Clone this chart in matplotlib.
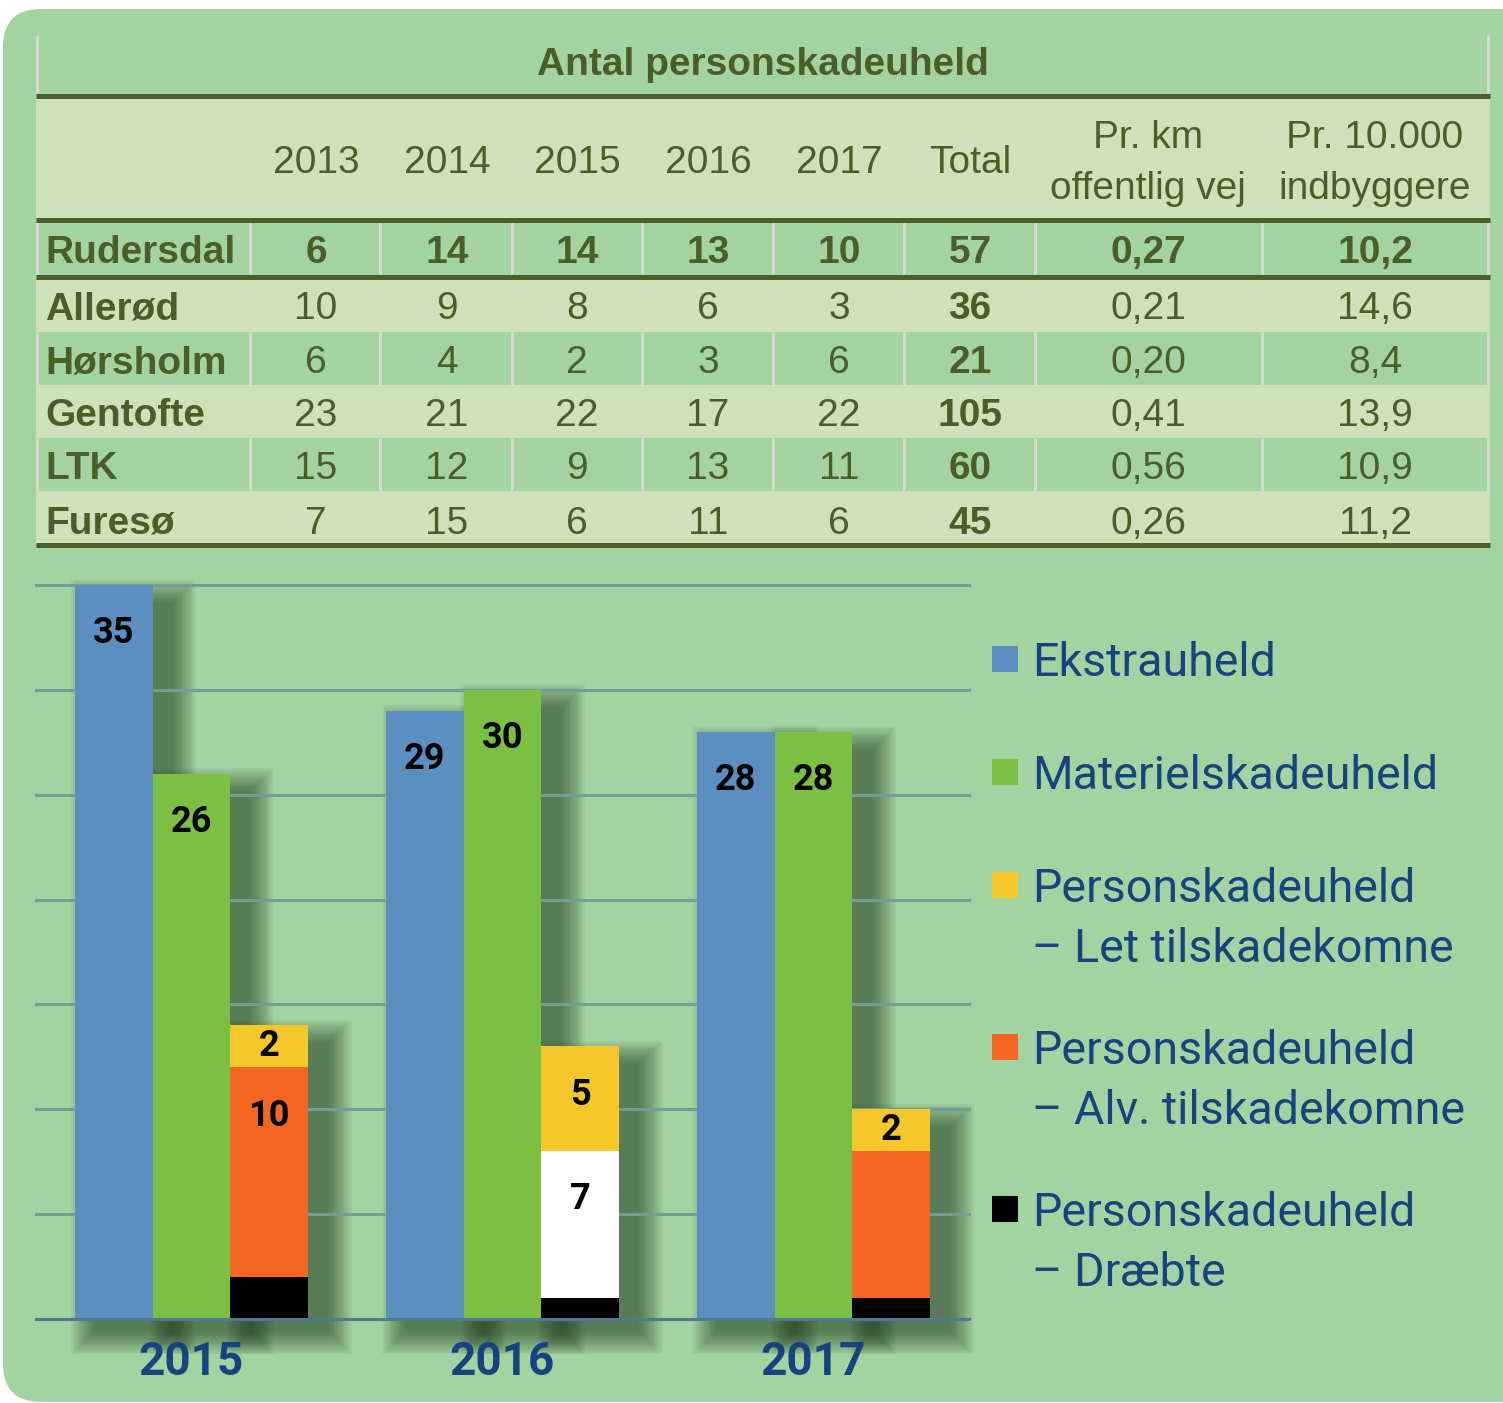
import numpy as np
import matplotlib.pyplot as plt
from matplotlib.patches import FancyBboxPatch, Rectangle

# ---- data: table ----
title = "Antal personskadeuheld"
col_heads = ["2013", "2014", "2015", "2016", "2017", "Total",
             "Pr. km\noffentlig vej", "Pr. 10.000\nindbyggere"]
names = ["Rudersdal", "Allerød", "Hørsholm", "Gentofte", "LTK", "Furesø"]
y2013 = [6, 10, 6, 23, 15, 7]
y2014 = [14, 9, 4, 21, 12, 15]
y2015 = [14, 8, 2, 22, 9, 6]
y2016 = [13, 6, 3, 17, 13, 11]
y2017 = [10, 3, 6, 22, 11, 6]
total = [57, 36, 21, 105, 60, 45]
per_km = ["0,27", "0,21", "0,20", "0,41", "0,56", "0,26"]
per_10k = ["10,2", "14,6", "8,4", "13,9", "10,9", "11,2"]

# ---- data: chart ----
years = ["2015", "2016", "2017"]
ekstra = np.array([35, 29, 28])
materiel = np.array([26, 30, 28])
draebte = np.array([2, 1, 1])
alv = np.array([10, 7, 7])
let = np.array([2, 5, 2])
alv_text = ["10", "7", ""]
legend_names = ["Ekstrauheld", "Materielskadeuheld",
                "Personskadeuheld\n– Let tilskadekomne",
                "Personskadeuheld\n– Alv. tilskadekomne",
                "Personskadeuheld\n– Dræbte"]

# colours
bg_green = "#a3d3a1"
light_row = "#cfe1b9"
dark = "#4b5e2a"
sep_c = "#d5dad5"
blue = "#5b8fbf"
green = "#7bc043"
yellow = "#f5c72a"
orange = "#f46622"
alv_colors = [orange, "white", orange]
navy = "#17447f"
grid_c = "#729e98"

W, H = 1503, 1403
fig = plt.figure(figsize=(W / 100, H / 100), dpi=100)
fig.patch.set_facecolor("white")

bg = fig.add_axes([0, 0, 1, 1])
bg.set_xlim(0, W)
bg.set_ylim(H, 0)
bg.axis("off")
bg.add_patch(FancyBboxPatch((3, 9), W + 80, H - 10,
                            boxstyle="round,pad=0,rounding_size=38",
                            fc=bg_green, ec="none"))

# ---- table ----
tx0, tx1 = 36, 1490
bg.add_patch(Rectangle((tx0, 97), tx1 - tx0, 121, fc=light_row, ec="none"))
bands = [(222, 275, bg_green), (280, 332, light_row), (332, 385, bg_green),
         (385, 438, light_row), (438, 491, bg_green), (491, 544, light_row)]
seps = [37, 250, 380, 512, 642, 773, 904, 1035, 1262, 1488]
for y0, y1, c in bands:
    bg.add_patch(Rectangle((tx0, y0), tx1 - tx0, y1 - y0, fc=c, ec="none"))
    if c == bg_green:
        for sx in seps:
            bg.plot([sx, sx], [y0, y1], color=sep_c, lw=2.2, solid_capstyle="butt")
for sx in (37, 1488):
    bg.plot([sx, sx], [35, 93], color=sep_c, lw=2.2, solid_capstyle="butt")
for yl in (96, 220, 277, 545):
    bg.plot([tx0, tx1], [yl, yl], color=dark, lw=3.6, solid_capstyle="butt")

tfont = dict(family=["Liberation Sans", "DejaVu Sans"], fontsize=28, color=dark)
bg.text(763, 75, title, ha="center", va="baseline", fontweight="bold", **tfont)

col_x = [316, 447, 577, 708, 839, 970, 1148, 1375]
for cx, head in zip(col_x, col_heads):
    parts = head.split("\n")
    if len(parts) == 1:
        bg.text(cx, 173, parts[0], ha="center", va="baseline", **tfont)
    else:
        bg.text(cx, 148, parts[0], ha="center", va="baseline", **tfont)
        bg.text(cx, 199, parts[1], ha="center", va="baseline", **tfont)

row_base = [263, 319, 373, 426, 479, 534]
for i, name in enumerate(names):
    yb = row_base[i]
    vals = [y2013[i], y2014[i], y2015[i], y2016[i], y2017[i], total[i], per_km[i], per_10k[i]]
    bg.text(45, yb, name, ha="left", va="baseline", fontweight="bold", **tfont)
    for j, (cx, v) in enumerate(zip(col_x, vals)):
        wgt = "bold" if (i == 0 or j == 5) else "normal"
        bg.text(cx, yb, str(v), ha="center", va="baseline", fontweight=wgt, **tfont)

# ---- chart ----
ax_l, ax_r, ax_t, ax_b = 36, 969, 585, 1319
ax = fig.add_axes([ax_l / W, 1 - ax_b / H, (ax_r - ax_l) / W, (ax_b - ax_t) / H])
ax.patch.set_alpha(0)
ax.set_xlim(-0.5, 2.5)
ax.set_ylim(0, 35)
for s in ax.spines.values():
    s.set_visible(False)
ax.set_yticks(range(0, 36, 5))
ax.yaxis.grid(True, color=grid_c, lw=2.2, zorder=0)
for gl in ax.get_ygridlines():
    gl.set_clip_on(False)
ax.tick_params(axis="y", length=0, labelleft=False)
x = np.arange(len(years))
ax.set_xticks(x)
ax.set_xticklabels(years, fontsize=33, fontweight="bold", color=navy,
                   family=["Roboto", "DejaVu Sans"])
ax.tick_params(axis="x", length=0, pad=15)

w = 0.25
pxx = (ax_r - ax_l) / 3.0
pxy = (ax_b - ax_t) / 35.0


def shadow(xc, h):
    # soft drop shadow: stacked translucent rectangles, shifted right/down
    ox, oy = 20, 12
    for k in range(14):
        pad = k * 1.8
        ax.add_patch(Rectangle((xc - w / 2 + (ox - pad) / pxx, -(oy + pad) / pxy),
                               w + 2 * pad / pxx, h + (2 * pad - 6) / pxy,
                               fc="#1c361c", ec="none", alpha=0.05,
                               zorder=1.5, clip_on=False))


stack_tot = draebte + alv + let
for i in range(len(years)):
    shadow(x[i] - w, ekstra[i])
    shadow(x[i], materiel[i])
    shadow(x[i] + w, stack_tot[i])

ax.bar(x - w, ekstra, w, color=blue, zorder=3)
ax.bar(x, materiel, w, color=green, zorder=3)
ax.bar(x + w, draebte, w, color="black", zorder=3)
ax.bar(x + w, alv, w, bottom=draebte, color=alv_colors, zorder=3)
ax.bar(x + w, let, w, bottom=draebte + alv, color=yellow, zorder=3)
ax.axhline(0, color="#4f7a92", lw=2.2, zorder=4, clip_on=False)

lab = dict(fontsize=26, fontweight="bold", color="black",
           family=["Roboto", "DejaVu Sans"], ha="center", va="center", zorder=5)


def put(xc, bottom, h, txt):
    if txt:
        top = bottom + h
        ax.text(xc, top - min(2.3, h / 2), txt, **lab)


for i in range(len(years)):
    put(x[i] - w, 0, ekstra[i], str(ekstra[i]))
    put(x[i], 0, materiel[i], str(materiel[i]))
    put(x[i] + w, draebte[i], alv[i], alv_text[i])
    put(x[i] + w, draebte[i] + alv[i], let[i], str(let[i]))

# ---- legend ----
leg_colors = [blue, green, yellow, orange, "black"]
leg_y = [659, 772, 885, 1047, 1209]
for c, name, yc in zip(leg_colors, legend_names, leg_y):
    bg.add_patch(Rectangle((992, yc - 13), 26, 26, fc=c, ec="none"))
    for k, line in enumerate(name.split("\n")):
        bg.text(1032, yc + 17 + 60 * k, line, ha="left", va="baseline",
                fontsize=33.5, color=navy, family=["Roboto", "DejaVu Sans"])

fig.savefig("out.png", dpi=100, facecolor="white")
